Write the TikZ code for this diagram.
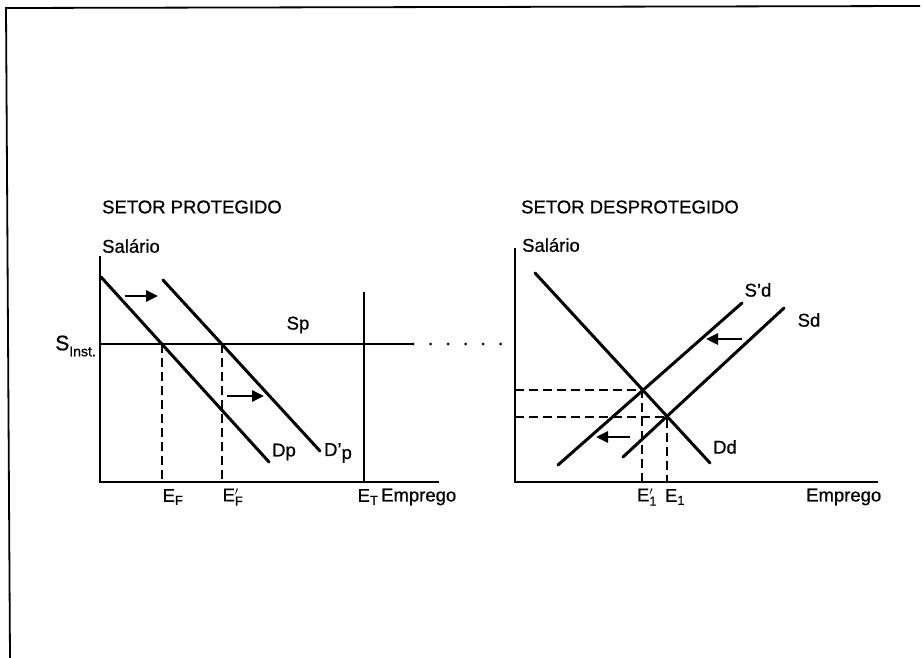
\documentclass[tikz,border=0pt]{standalone}
\usepackage{fontspec}
\setmainfont{Liberation Sans}[FakeBold=0.7]
\usetikzlibrary{arrows.meta}
\tikzset{
  eixo/.style  ={line width=1.8pt},
  curva/.style ={line width=3pt, line cap=round},
  guia/.style  ={line width=2pt, dash pattern=on 9pt off 5pt},
  pontos/.style={line width=3pt, line cap=round, dash pattern=on 0pt off 17.5pt},
  desloc/.style={line width=2.8pt, -{Triangle[length=12pt,width=11pt]}},
  rot/.style   ={font=\fontsize{18.5}{20}\selectfont, inner sep=0pt},
  titulo/.style={font=\fontsize{18.5}{20}\selectfont, inner sep=0pt, anchor=west},
}
\newcommand{\sublbl}[2]{$\mathrm{#1}_{\mathrm{#2}}$}
\newcommand{\primelbl}[2]{$\mathrm{#1}'_{\mathrm{#2}}$}

\begin{document}
\begin{tikzpicture}[x=1pt, y=-1pt]
\useasboundingbox (0,0) rectangle (922,658);

% moldura
\coordinate (mA) at (6,8);
\coordinate (mB) at (920,6);
\coordinate (mC) at (10,658);
\draw[line width=1.8pt] (mC) -- (mA) -- (mB);

% setor protegido
\coordinate (oP) at (100,482);
\coordinate (yP) at (100,256);
\coordinate (xP) at (439,482);
\coordinate (tT) at (364,292);
\coordinate (bT) at (364,482);
\coordinate (sL) at (100,344);
\coordinate (sR) at (413,344);
\coordinate (eF) at (162,344);
\coordinate (eF2) at (222,344);
\coordinate (bF) at (162,482);
\coordinate (bF2) at (222,482);
\coordinate (dp1) at (101,277);
\coordinate (dp2) at (269,462);
\coordinate (dq1) at (163,280);
\coordinate (dq2) at (320,451);
\coordinate (a1) at (125,296);
\coordinate (a2) at (158,296);
\coordinate (a3) at (227,396);
\coordinate (a4) at (264,396);

\draw[eixo] (yP) -- (oP) -- (xP);
\draw[eixo] (tT) -- (bT);
\draw[line width=1.6pt] (sL) -- (sR);
\draw[curva] (dp1) -- (dp2);
\draw[curva] (dq1) -- (dq2);
\draw[guia] (eF) -- (bF);
\draw[guia] (eF2) -- (bF2);
\draw[desloc] (a1) -- (a2);
\draw[desloc] (a3) -- (a4);

\node[titulo] (tP) at (102,207) {SETOR PROTEGIDO};
\node[titulo] (salP) at (102,246) {Salário};
\node[rot] (sp) at (298,325) {Sp};
\node[rot] (dp) at (284,452) {Dp};
\node[rot] (dq) at (338,453) {D\textquoteright\raisebox{-3pt}{p}};
\node[rot, anchor=east] (sinst) at (96,346)
  {{\fontsize{21}{22}\selectfont S}\raisebox{-6pt}{\fontsize{14}{16}\selectfont Inst.}};
\node[rot] (lF) at (173,497) {\sublbl{E}{F}};
\node[rot] (lF2) at (233,497) {\primelbl{E}{F}};
\node[rot] (lT) at (368,497) {\sublbl{E}{T}};
\node[rot, anchor=west] (empP) at (381,497) {Emprego};

% ligacao
\coordinate (oD) at (515,482);
\coordinate (sD) at (515,344);
\draw[pontos] (sR) -- (sD);

% setor desprotegido
\coordinate (yD) at (515,248);
\coordinate (xD) at (878,482);
\coordinate (dd1) at (535,273);
\coordinate (dd2) at (710,463);
\coordinate (sq1) at (558,465);
\coordinate (sq2) at (742,303);
\coordinate (sd1) at (623,457);
\coordinate (sd2) at (784,308);
\coordinate (pA) at (642,390);
\coordinate (pB) at (667,417);
\coordinate (hA) at (515,390);
\coordinate (hB) at (515,417);
\coordinate (vA) at (642,482);
\coordinate (vB) at (667,482);
\coordinate (b1) at (742,339);
\coordinate (b2) at (706,339);
\coordinate (b3) at (630,437);
\coordinate (b4) at (596,437);

\draw[eixo] (yD) -- (oD) -- (xD);
\draw[curva] (dd1) -- (dd2);
\draw[curva] (sq1) -- (sq2);
\draw[curva] (sd1) -- (sd2);
\draw[guia] (hA) -- (pA) -- (vA);
\draw[guia] (hB) -- (pB) -- (vB);
\draw[desloc] (b1) -- (b2);
\draw[desloc] (b3) -- (b4);

\node[titulo] (tD) at (521,207) {SETOR DESPROTEGIDO};
\node[titulo] (salD) at (522,245) {Salário};
\node[rot] (sdq) at (758,290) {S\textquoteright d};
\node[rot] (sd) at (809,320) {Sd};
\node[rot] (dd) at (725,447) {Dd};
\node[rot] (l1b) at (647,497) {\primelbl{E}{1}};
\node[rot] (l1) at (675,497) {\sublbl{E}{1}};
\node[rot, anchor=west] (empD) at (806,497) {Emprego};

\end{tikzpicture}
\end{document}
